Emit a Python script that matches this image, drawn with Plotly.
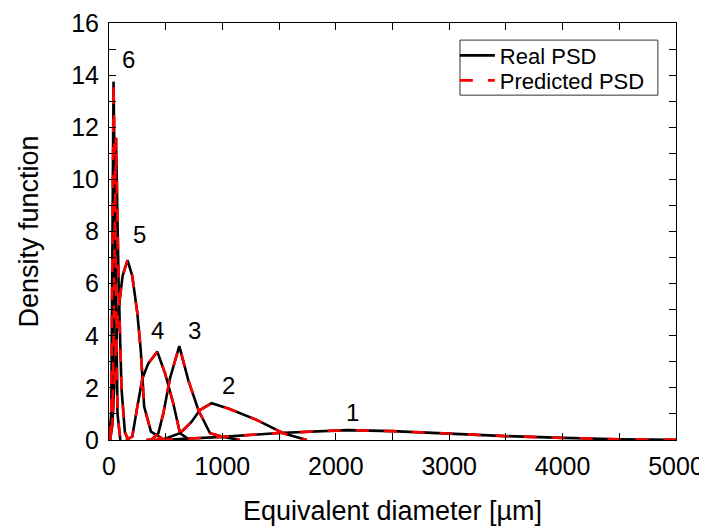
import plotly.graph_objects as go

# ---- data ----
x6a = [0, 20, 40, 55, 75, 100]
y6a = [0, 1.0, 13.75, 8.0, 1.0, 0]

x6b = [0, 30, 62, 85, 110, 140, 170]
y6b = [0.4, 0.6, 11.6, 6.0, 2.0, 0.3, 0]

x5 = [10, 30, 75, 120, 163, 205, 250, 280, 310, 370, 470]
y5 = [0, 0.6, 4.7, 6.3, 6.9, 6.3, 4.86, 3.45, 1.28, 0.32, 0.05]

x4 = [150, 205, 250, 295, 347, 426, 494, 567, 626, 714]
y4 = [0, 0.13, 1.28, 2.37, 2.94, 3.39, 2.56, 1.4, 0.26, 0]

x3 = [330, 376, 435, 479, 538, 620, 699, 788, 891, 994, 1155]
y3 = [0, 0.02, 0.26, 1.02, 2.37, 3.6, 2.3, 1.15, 0.26, 0.13, 0]

x2 = [400, 494, 626, 729, 802, 905, 1052, 1302, 1537, 1743]
y2 = [0, 0.05, 0.26, 0.7, 1.15, 1.41, 1.21, 0.77, 0.26, 0]

x1 = [450, 1000, 1500, 2100, 2500, 3000, 3500, 4000, 4500, 5000]
y1 = [0, 0.12, 0.27, 0.38, 0.34, 0.24, 0.15, 0.08, 0.03, 0.01]

real_x = [x1, x2, x3, x4, x5, x6b, x6a]
real_y = [y1, y2, y3, y4, y5, y6b, y6a]
pred_x = real_x
pred_y = real_y

label_text = ["1", "2", "3", "4", "5", "6"]
label_x = [2143, 1050, 750, 432, 273, 168]
label_y = [1.07, 2.1, 4.2, 4.2, 7.9, 14.6]

FONT = "Liberation Sans, Arial, Helvetica, sans-serif"

fig = go.Figure()
for i, (xs, ys) in enumerate(zip(real_x, real_y)):
    fig.add_trace(go.Scatter(x=xs, y=ys, mode="lines",
                             line=dict(color="black", width=2.6),
                             name="Real PSD", legendgroup="real",
                             legend="legend",
                             showlegend=(i == 0)))
for i, (xs, ys) in enumerate(zip(pred_x, pred_y)):
    fig.add_trace(go.Scatter(x=xs, y=ys, mode="lines",
                             line=dict(color="#ff0000", width=2.6, dash="13px,15px"),
                             name="Predicted PSD", legendgroup="pred",
                             legend="legend2",
                             showlegend=(i == 0)))

for t, lx, ly in zip(label_text, label_x, label_y):
    fig.add_annotation(x=lx, y=ly, text=t, showarrow=False,
                       font=dict(size=24, color="black", family=FONT))

axis_common = dict(showgrid=False, zeroline=False, showline=True,
                   linecolor="black", linewidth=1, mirror="ticks",
                   ticks="inside", ticklen=7, tickcolor="black", tickwidth=1,
                   automargin=False, ticklabelstandoff=4,
                   tickfont=dict(size=25, color="black", family=FONT))

fig.update_xaxes(range=[0, 5000], dtick=1000, tick0=0,
                 minor=dict(dtick=500, ticks="inside", ticklen=7, tickcolor="black"),
                 title=dict(text="Equivalent diameter [µm]", standoff=22,
                            font=dict(size=27, color="black", family=FONT)),
                 **axis_common)
fig.update_yaxes(range=[0, 16], dtick=2, tick0=0,
                 minor=dict(dtick=1, ticks="inside", ticklen=7, tickcolor="black"),
                 title=dict(text="Density function", standoff=24,
                            font=dict(size=27, color="black", family=FONT)),
                 **axis_common)

# legend frame (paper coordinates)
fig.add_shape(type="rect", xref="paper", yref="paper",
              x0=0.619, x1=0.968, y0=0.827, y1=0.959,
              line=dict(color="#333333", width=1), fillcolor="white", layer="below")

legend_common = dict(xanchor="left", yanchor="middle", x=0.61,
                     bgcolor="rgba(0,0,0,0)", borderwidth=0,
                     font=dict(size=22, color="black", family=FONT),
                     itemwidth=35)

# page body has an 8px margin, so the figure is sized 699x519
fig.update_layout(width=699, height=519,
                  margin=dict(l=101, r=31, t=15, b=87),
                  paper_bgcolor="white", plot_bgcolor="white",
                  font=dict(family=FONT, color="black"),
                  legend=dict(y=0.922, **legend_common),
                  legend2=dict(y=0.862, **legend_common))

fig.write_html("out.html")
